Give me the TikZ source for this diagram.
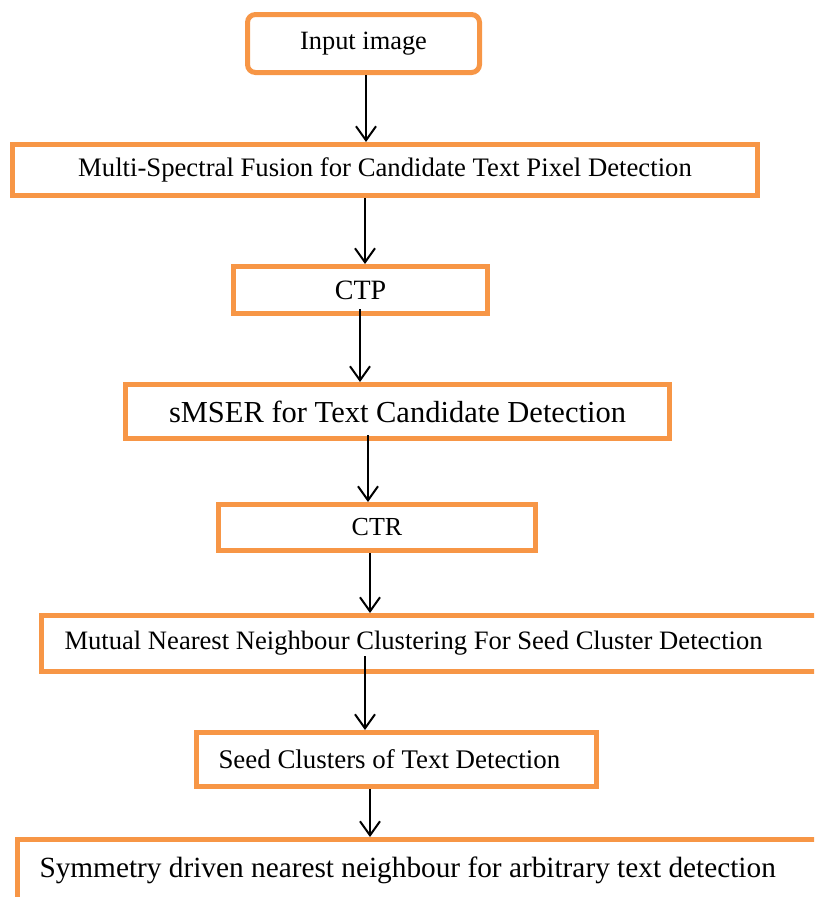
\documentclass[tikz,border=0pt]{standalone}
\usepackage{fontspec}
\setmainfont{Liberation Serif}
\usepackage{xcolor}
\usetikzlibrary{arrows.meta}
\definecolor{boxorange}{HTML}{F79646}

\begin{document}
\begin{tikzpicture}[x=1pt,y=-1pt,
        stage/.style={draw=boxorange, line width=5pt, rectangle, anchor=north west, inner sep=0pt},
        fs/.style={font=\fontsize{#1}{#1}\selectfont},
        flow/.style={line width=2pt, -{Straight Barb[length=14pt,width=20pt,line width=2pt]}}]
        \useasboundingbox (0,0) rectangle (814,897);
        \clip (0,0) rectangle (814,897);
        \node[stage, fs=26.4, rounded corners=8pt, minimum width=232pt, minimum height=58pt] (input) at (245,12) {Input image};
        \node[stage, fs=26.7, minimum width=745pt, minimum height=51pt] (msf) at (10,142) {Multi-Spectral Fusion for Candidate Text Pixel Detection};
        \node[stage, fs=28, minimum width=254pt, minimum height=47pt] (ctp) at (231,264) {CTP};
        \node[stage, fs=30.5, minimum width=544pt, minimum height=54pt] (smser) at (123,382) {sMSER for Text Candidate Detection};
        \node[stage, fs=26, minimum width=317pt, minimum height=46pt] (ctr) at (216,502) {CTR};
        \node[stage, fs=26.6, minimum height=56pt, text width=760pt, align=flush left, inner xsep=23pt] (mnn) at (39,613) {Mutual Nearest Neighbour Clustering For Seed Cluster Detection};
        \node[stage, fs=26.9, minimum height=54pt, text width=356pt, align=flush left, inner xsep=22pt] (seed) at (194,730) {Seed Clusters of Text Detection};
        \node[stage, fs=29.3, text width=790pt, align=flush left, inner xsep=22pt, text height=38pt, text depth=30pt] (sym) at (15,837) {Symmetry driven nearest neighbour for arbitrary text detection};
        % arrows: from / to / x / start offset
        \foreach \a/\b/\x/\s in {input/msf/366/0, msf/ctp/365/0, ctp/smser/360/7, smser/ctr/368/6,
                ctr/mnn/370/0, mnn/seed/365/18, seed/sym/370/0}
            \draw[flow] ([yshift=\s pt]\a.south -| \x,0) -- (\b.north -| \x,0);
    \end{tikzpicture}
\end{document}
